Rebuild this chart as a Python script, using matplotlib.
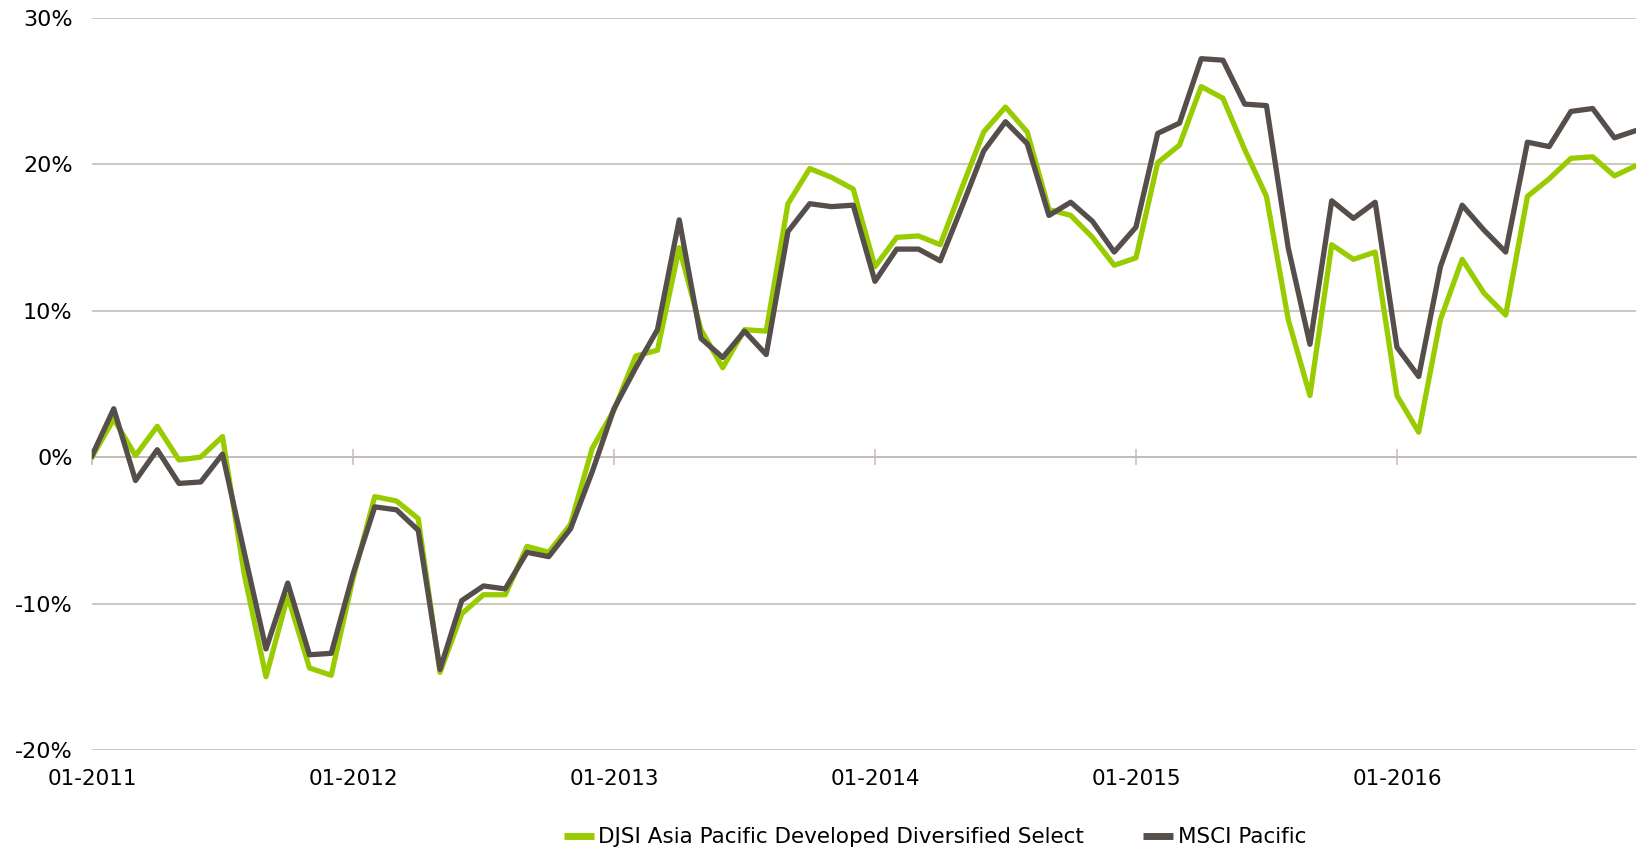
import numpy as np
import matplotlib
matplotlib.use("Agg")
import matplotlib.pyplot as plt
from matplotlib.ticker import FuncFormatter

# monthly cumulative performance (%), 01-2011 .. 12-2016
djsi = [0.0, 2.6, 0.1, 2.1, -0.2, 0.0, 1.4, -8.0, -15.0, -9.5, -14.4, -14.9,
        -8.3, -2.7, -3.0, -4.2, -14.7, -10.7, -9.4, -9.4, -6.1, -6.5, -4.6, 0.6,
        3.2, 6.9, 7.3, 14.3, 8.7, 6.1, 8.7, 8.6, 17.3, 19.7, 19.1, 18.3,
        13.0, 15.0, 15.1, 14.5, 18.4, 22.2, 23.9, 22.2, 16.9, 16.5, 15.0, 13.1,
        13.6, 20.1, 21.3, 25.3, 24.5, 21.0, 17.8, 9.4, 4.2, 14.5, 13.5, 14.0,
        4.2, 1.7, 9.4, 13.5, 11.2, 9.7, 17.8, 19.0, 20.4, 20.5, 19.2, 19.9]
msci = [0.1, 3.3, -1.6, 0.5, -1.8, -1.7, 0.2, -6.5, -13.1, -8.6, -13.5, -13.4,
        -8.0, -3.4, -3.6, -5.0, -14.5, -9.8, -8.8, -9.0, -6.5, -6.8, -4.9, -1.0,
        3.3, 6.1, 8.7, 16.2, 8.1, 6.8, 8.6, 7.0, 15.4, 17.3, 17.1, 17.2,
        12.0, 14.2, 14.2, 13.4, 17.1, 20.9, 22.9, 21.4, 16.5, 17.4, 16.1, 14.0,
        15.7, 22.1, 22.8, 27.2, 27.1, 24.1, 24.0, 14.3, 7.7, 17.5, 16.3, 17.4,
        7.5, 5.5, 13.0, 17.2, 15.5, 14.0, 21.5, 21.2, 23.6, 23.8, 21.8, 22.3]
labels = ["DJSI Asia Pacific Developed Diversified Select", "MSCI Pacific"]
year_labels = ["01-2011", "01-2012", "01-2013", "01-2014", "01-2015", "01-2016"]

green = "#99CC00"
dark = "#554E4A"
grid_c = "#C6BCB5"

months = np.arange(len(djsi))
plt.rcParams["font.family"] = ["DejaVu Sans"]

fig = plt.figure(figsize=(16.37, 8.51), dpi=100)
ax = fig.add_axes([0.0562, 0.1187, 0.9433, 0.8605])

ax.plot(months, djsi, color=green, lw=3.8, label=labels[0], zorder=3)
ax.plot(months, msci, color=dark, lw=3.8, label=labels[1], zorder=4)

ax.set_xlim(0, len(djsi) - 1)
ax.set_ylim(-20, 30)
ax.set_yticks(np.arange(-20, 31, 10))
ax.yaxis.set_major_formatter(FuncFormatter(lambda v, p: f"{v:.0f}%"))
ax.grid(axis="y", color=grid_c, lw=1.2, zorder=0)
for s in ax.spines.values():
    s.set_visible(False)

year_ticks = months[::12]
ax.set_xticks(year_ticks)
ax.set_xticklabels(year_labels)
ax.tick_params(axis="x", length=0, pad=14, labelsize=15.5, colors="black")
ax.tick_params(axis="y", length=0, pad=14, labelsize=16, colors="black")

# category axis crossing at 0%
sec = ax.secondary_xaxis(0.4)
sec.set_xticks(year_ticks)
sec.set_xticklabels([])
sec.tick_params(axis="x", direction="inout", length=12, width=1.2, color="#C8C2C0")
sec.spines["bottom"].set_color(grid_c)
sec.spines["bottom"].set_linewidth(1.2)

leg = fig.legend(loc="center", bbox_to_anchor=(0.571, 0.016), ncol=2, frameon=False,
                 handlelength=1.4, handletextpad=0.2, columnspacing=2.75,
                 prop={"family": "DejaVu Sans", "size": 15.5})
for h in leg.get_lines():
    h.set_linewidth(5)
    h.set_solid_capstyle("butt")

fig.savefig("out.png", dpi=100)
